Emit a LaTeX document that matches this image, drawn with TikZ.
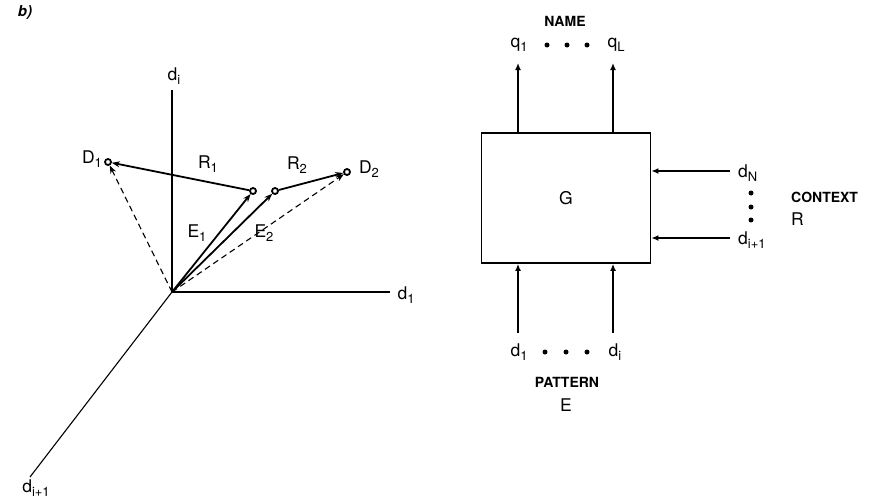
\documentclass[tikz,border=0pt]{standalone}
\usepackage{fontspec}
\setmainfont{TeX Gyre Heros}
\usetikzlibrary{arrows.meta,positioning}
\newcommand{\idx}[1]{\raisebox{-0.45ex}{\fontsize{13}{13}\selectfont #1}}

\begin{document}
\begin{tikzpicture}[
  x=1pt, y=-1pt,
  lbl/.style={font=\fontsize{17.5}{20}\selectfont, inner sep=1pt},
  captxt/.style={font=\fontsize{14}{16}\selectfont\bfseries, inner sep=1pt},
  axis/.style={line width=1.1pt},
  vec/.style={-{Stealth[length=8pt,width=6pt]}, line width=1.8pt},
  dvec/.style={-{Stealth[length=8pt,width=6pt]}, line width=1.1pt, dash pattern=on 6pt off 4pt},
  pt/.style={circle, draw, fill=white, line width=1.8pt, inner sep=0pt, minimum size=6pt},
  sig/.style={-{Latex[length=7pt,width=6pt]}, line width=1.6pt},
  dot/.style={circle, fill, inner sep=0pt, minimum size=5pt}
]
\useasboundingbox (0,0) rectangle (886,498);

\node[font=\fontsize{15}{17}\selectfont\bfseries\itshape] (tag) at (25,13) {b)};

% --- vector space
\coordinate (O) at (172,292);
\coordinate (ai) at (172,90);
\coordinate (a1) at (390,292);
\coordinate (ai1) at (30,477);
\draw[axis] (O) -- (ai);
\draw[axis] (O) -- (a1);
\draw[axis] (O) -- (ai1);
\node[lbl] (lai) at (174,76) {d\idx{i}};
\node[lbl] (la1) at (406,295) {d\idx{1}};
\node[lbl] (lai1) at (36,488) {d\idx{i+1}};

\node[pt] (D1) at (108,162) {};
\node[pt] (E1) at (253,191) {};
\node[pt] (E2) at (275,191) {};
\node[pt] (D2) at (347,172) {};

\draw[vec] (O) -- (E1);
\draw[vec] (O) -- (E2);
\draw[vec] (E1) -- (D1);
\draw[vec] (E2) -- (D2);
\draw[dvec] (O) -- (D1);
\draw[dvec] (O) -- (D2);

\node[lbl] (lD1) at (92,159) {D\idx{1}};
\node[lbl] (lD2) at (369,169) {D\idx{2}};
\node[lbl] (lR1) at (208,164) {R\idx{1}};
\node[lbl] (lR2) at (297,165) {R\idx{2}};
\node[lbl] (lE1) at (197,233) {E\idx{1}};
\node[lbl] (lE2) at (264,233) {E\idx{2}};

% --- block G
\node[draw, line width=1.8pt, minimum width=169pt, minimum height=130pt, lbl] (G) at (566,198) {G};

\node[captxt] (name) at (565,21) {NAME};
\node[lbl] (q1) at (519,45) {q\idx{1}};
\node[lbl] (qL) at (616,45) {q\idx{L}};
\foreach \x in {547,567,587} \node[dot] at (\x,45) {};
\coordinate (t1) at (518,63);
\coordinate (tL) at (613,63);
\draw[sig] (G.north -| t1) -- (t1);
\draw[sig] (G.north -| tL) -- (tL);

\node[lbl] (d1) at (519,352) {d\idx{1}};
\node[lbl] (di) at (615,352) {d\idx{i}};
\foreach \x in {545,566,587} \node[dot] at (\x,352) {};
\coordinate (b1) at (518,333);
\coordinate (bi) at (613,333);
\draw[sig] (b1) -- (G.south -| b1);
\draw[sig] (bi) -- (G.south -| bi);
\node[captxt] (pat) at (567,382) {PATTERN};
\node[lbl] (lE) at (566,405) {E};

\coordinate (cN) at (730,171);
\coordinate (ci) at (730,238);
\draw[sig] (cN) -- (cN -| G.east);
\draw[sig] (ci) -- (ci -| G.east);
\node[lbl, anchor=base west] (dN) at (737,177) {d\idx{N}};
\node[lbl, anchor=base west] (di1) at (737,244) {d\idx{i+1}};
\foreach \y in {193,207,220} \node[dot] at (751,\y) {};
\node[captxt, anchor=west] (ctx) at (790,197) {CONTEXT};
\node[lbl, anchor=west] (lR) at (790,219) {R};
\end{tikzpicture}
\end{document}
